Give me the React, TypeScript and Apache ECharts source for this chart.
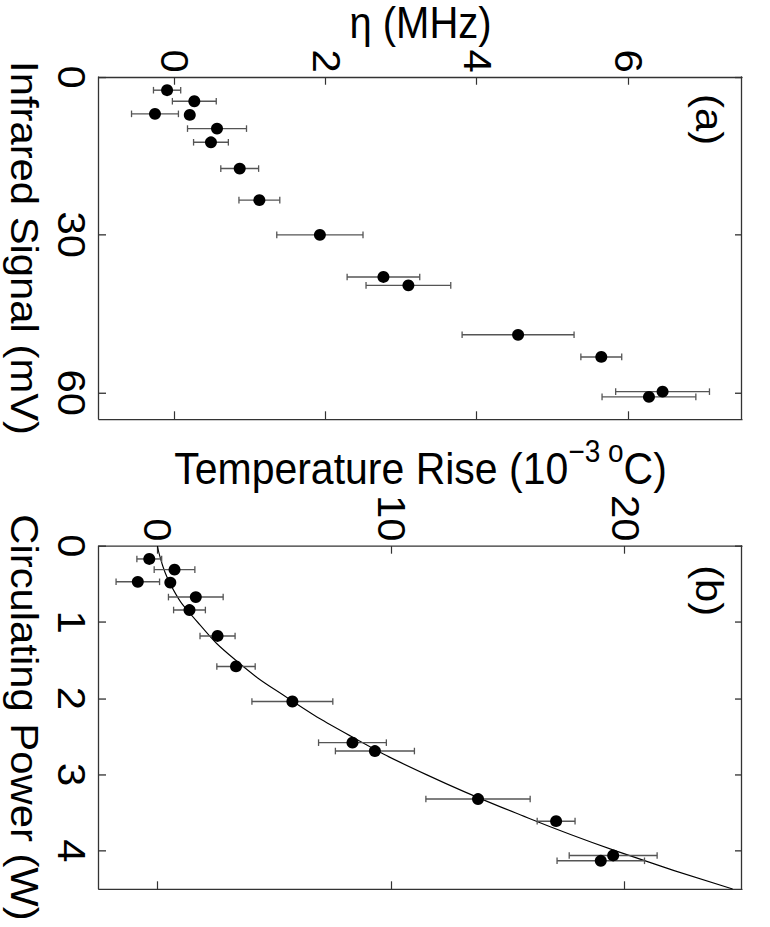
import React, { useEffect, useRef } from "react";
import * as echarts from "echarts";

// Panel (a): Infrared signal (mV) vs eta (MHz)
const irSignal = [2.5, 4.6, 7.0, 7.2, 9.8, 12.4, 17.4, 23.4, 30.0, 38.0, 39.6, 49.0, 53.2, 59.8, 60.8];
const eta = [-0.1, 0.26, -0.26, 0.2, 0.56, 0.48, 0.86, 1.12, 1.92, 2.76, 3.09, 4.54, 5.64, 6.45, 6.27];
const etaErr = [0.18, 0.29, 0.31, 0.05, 0.39, 0.23, 0.25, 0.27, 0.57, 0.48, 0.56, 0.74, 0.27, 0.62, 0.62];

// Panel (b): Circulating power (W) vs temperature rise (1e-3 C)
const power = [0.17, 0.31, 0.47, 0.48, 0.67, 0.84, 1.18, 1.58, 2.04, 2.58, 2.69, 3.32, 3.61, 4.06, 4.13];
const tempRise = [-0.35, 0.73, -0.84, 0.55, 1.64, 1.37, 2.57, 3.36, 5.77, 8.34, 9.3, 13.71, 17.05, 19.49, 18.96];
const tempErr = [0.53, 0.87, 0.93, 0.15, 1.17, 0.68, 0.75, 0.82, 1.73, 1.45, 1.69, 2.23, 0.81, 1.88, 1.87];

// Fitted curve in panel (b)
const fitPower = [0, 0.5, 1, 1.5, 2, 2.5, 3, 3.5, 4, 4.5];
const fitTemp = [0, 0.55, 1.72, 3.35, 5.6, 8.3, 11.5, 15.3, 19.6, 24.6];

// Tick values
const irTicks = [0, 30, 60];
const etaTicks = [0, 2, 4, 6];
const powerTicks = [0, 1, 2, 3, 4];
const tempTicks = [0, 10, 20];

const FONT = '"Liberation Sans", Arial, Helvetica, sans-serif';
const AXIS_COLOR = "#333";
// The figure is drawn upright, stretched a little horizontally, then turned a quarter turn.
const STRETCH = 1.1;
const CHART_W = 843;
const CHART_H = 770;

function mkAxis(opts: any) {
  const { gridIndex, min, max, ticks, position, showLabel, name, nameGap, labelMargin, nameTextStyle, nameSize } = opts;
  return {
    type: "value",
    gridIndex,
    min,
    max,
    position,
    axisLine: { show: true, onZero: false, lineStyle: { color: AXIS_COLOR, width: 1.3 } },
    axisTick: { show: true, inside: true, length: 7, customValues: ticks, lineStyle: { color: AXIS_COLOR, width: 1.2 } },
    axisLabel: {
      show: showLabel,
      customValues: ticks,
      fontSize: 38,
      color: "#000",
      fontFamily: FONT,
      margin: labelMargin ?? 8,
    },
    splitLine: { show: false },
    name: name || "",
    nameLocation: "middle",
    nameGap: nameGap ?? 50,
    nameTextStyle: Object.assign({ fontSize: nameSize ?? 38, color: "#000", fontFamily: FONT }, nameTextStyle || {}),
  };
}

function errorSeries(axisIndex: number, xs: number[], ys: number[], es: number[]) {
  return {
    type: "custom",
    xAxisIndex: axisIndex,
    yAxisIndex: axisIndex,
    data: xs.map((x, i) => [x, ys[i], es[i]]),
    encode: { x: 0, y: 1 },
    z: 2,
    renderItem: (params: any, api: any) => {
      const x = api.value(0);
      const y = api.value(1);
      const e = api.value(2);
      const lo = api.coord([x, y - e]);
      const hi = api.coord([x, y + e]);
      const cap = 3;
      const style = { stroke: "#555", lineWidth: 1.3, fill: null };
      return {
        type: "group",
        children: [
          { type: "line", shape: { x1: lo[0], y1: lo[1], x2: hi[0], y2: hi[1] }, style },
          { type: "line", shape: { x1: lo[0] - cap, y1: lo[1], x2: lo[0] + cap, y2: lo[1] }, style },
          { type: "line", shape: { x1: hi[0] - cap, y1: hi[1], x2: hi[0] + cap, y2: hi[1] }, style },
        ],
      };
    },
  };
}

function scatterSeries(axisIndex: number, xs: number[], ys: number[]) {
  return {
    type: "scatter",
    xAxisIndex: axisIndex,
    yAxisIndex: axisIndex,
    symbol: "circle",
    symbolSize: [10.8, 12],
    itemStyle: { color: "#000", opacity: 1 },
    z: 3,
    data: xs.map((x, i) => [x, ys[i]]),
  };
}

function buildOption() {
  const gridW = 343 / STRETCH;
  return {
    animation: false,
    backgroundColor: "#fff",
    textStyle: { fontFamily: FONT },
    grid: [
      { left: 76 / STRETCH, top: 28, width: gridW, height: 653 },
      { left: 546 / STRETCH, top: 28, width: gridW, height: 653 },
    ],
    xAxis: [
      mkAxis({ gridIndex: 0, min: 0, max: 65, ticks: irTicks, position: "bottom", showLabel: true, name: "Infrared Signal (mV)", nameGap: 56, labelMargin: 9, nameSize: 38 }),
      mkAxis({ gridIndex: 0, min: 0, max: 65, ticks: irTicks, position: "top", showLabel: false }),
      mkAxis({ gridIndex: 1, min: 0, max: 4.5, ticks: powerTicks, position: "bottom", showLabel: true, name: "Circulating Power (W)", nameGap: 56, labelMargin: 9, nameSize: 38 }),
      mkAxis({ gridIndex: 1, min: 0, max: 4.5, ticks: powerTicks, position: "top", showLabel: false }),
    ],
    yAxis: [
      mkAxis({ gridIndex: 0, min: -1, max: 7.5, ticks: etaTicks, position: "left", showLabel: true, name: "η (MHz)", nameGap: 23, labelMargin: 4, nameSize: 40 }),
      mkAxis({ gridIndex: 0, min: -1, max: 7.5, ticks: etaTicks, position: "right", showLabel: false }),
      mkAxis({
        gridIndex: 1, min: -2.5, max: 25, ticks: tempTicks, position: "left", showLabel: true,
        name: "{n|Temperature Rise (10}{s|−3 o}{n|C)}", nameGap: 45, labelMargin: 4, nameSize: 41,
        nameTextStyle: {
          rich: {
            n: { fontSize: 41, color: "#000", fontFamily: FONT, verticalAlign: "bottom" },
            s: { fontSize: 28, color: "#000", fontFamily: FONT, verticalAlign: "bottom", padding: [0, 0, 22, 0] },
          },
        },
      }),
      mkAxis({ gridIndex: 1, min: -2.5, max: 25, ticks: tempTicks, position: "right", showLabel: false }),
    ],
    graphic: [
      { type: "text", x: 85.5, y: 61, style: { text: "(a)", fontSize: 38, fontFamily: FONT, fill: "#000", align: "left", verticalAlign: "middle", textAlign: "left", textVerticalAlign: "middle" } },
      { type: "text", x: 513.8, y: 61, style: { text: "(b)", fontSize: 38, fontFamily: FONT, fill: "#000", align: "left", verticalAlign: "middle", textAlign: "left", textVerticalAlign: "middle" } },
    ],
    series: [
      errorSeries(0, irSignal, eta, etaErr),
      scatterSeries(0, irSignal, eta),
      {
        type: "line",
        xAxisIndex: 2,
        yAxisIndex: 2,
        smooth: true,
        symbol: "none",
        showSymbol: false,
        clip: true,
        lineStyle: { color: "#000", width: 1.1 },
        z: 1,
        data: fitPower.map((p, i) => [p, fitTemp[i]]),
      },
      errorSeries(2, power, tempRise, tempErr),
      scatterSeries(2, power, tempRise),
    ],
  };
}

export default function App() {
  const ref = useRef<HTMLDivElement>(null);
  useEffect(() => {
    if (!ref.current) return;
    const chart = echarts.init(ref.current, null, { renderer: "svg", width: CHART_W, height: CHART_H });
    chart.setOption(buildOption() as any);
    return () => chart.dispose();
  }, []);
  return (
    <div style={{ position: "absolute", left: 0, top: 0, width: 770, height: 927, overflow: "hidden", background: "#fff" }}>
      <div
        ref={ref}
        style={{
          position: "absolute",
          left: 0,
          top: 0,
          width: CHART_W,
          height: CHART_H,
          transformOrigin: "0 0",
          transform: `translate(770px, 0px) rotate(90deg) scale(${STRETCH}, 1)`,
        }}
      />
    </div>
  );
}
